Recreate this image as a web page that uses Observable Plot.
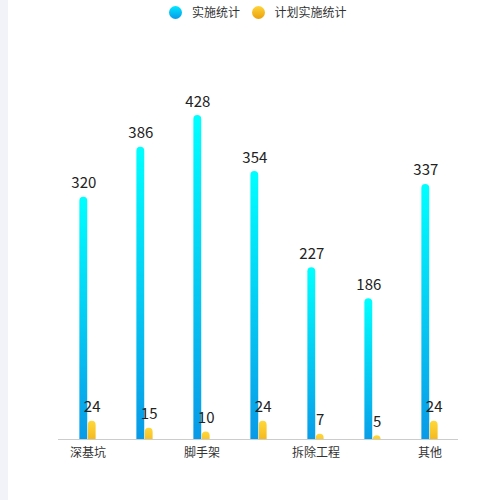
<!DOCTYPE html>
<html>
<head>
<meta charset="utf-8">
<script src="https://cdn.jsdelivr.net/npm/d3@7"></script>
<script src="https://cdn.jsdelivr.net/npm/@observablehq/plot@0.6"></script>
<style>
  html, body { margin: 0; padding: 0; background: #fff; }
  #wrap { position: relative; width: 500px; height: 500px; overflow: hidden; font-family: "Noto Sans CJK SC", "Noto Sans", sans-serif; }
  #strip { position: absolute; left: 0; top: 0; width: 8px; height: 500px; background: #f2f3f8; }
  #legend { position: absolute; top: 4px; left: 0; width: 500px; height: 16px; }
  .li { position: absolute; top: 0; display: flex; align-items: center; font-size: 12px; color: #333; line-height: 16px; white-space: nowrap; }
  .dot { width: 13px; height: 13px; border-radius: 50%; margin-right: 10px; }
  #chart { position: absolute; left: 0; top: 0; }
</style>
</head>
<body>
<div id="wrap">
  <div id="strip"></div>
  <div id="chart"></div>
  <div id="legend"></div>
</div>
<script>
const categories = ["深基坑", "高支模", "脚手架", "起重吊装", "拆除工程", "暗挖工程", "其他"];
const shownLabels = ["深基坑", "脚手架", "拆除工程", "其他"];
const actual = [320, 386, 428, 354, 227, 186, 337];
const planned = [24, 15, 10, 24, 7, 5, 24];
const seriesNames = ["实施统计", "计划实施统计"];

const W = 500, H = 500;
const mL = 58, mR = 42, mT = 60.5, mB = 61;
const bw = (W - mL - mR) / categories.length;

const dataA = categories.map((c, i) => ({cat: c, v: actual[i]}));
const dataP = categories.map((c, i) => ({cat: c, v: planned[i]}));

const chart = Plot.plot({
  width: W, height: H,
  marginLeft: mL, marginRight: mR, marginTop: mT, marginBottom: mB,
  style: {fontFamily: '"Noto Sans CJK SC", "Noto Sans", sans-serif', background: "transparent"},
  x: {type: "band", domain: categories, padding: 0, axis: null, label: null},
  y: {domain: [0, 500], axis: null, label: null},
  marks: [
    Plot.barY(dataA, {x: "cat", y1: -20, y2: "v", fill: "url(#gBlue)", rx: 4, clip: true,
      insetLeft: bw / 2 - 8.2, insetRight: bw / 2 + 0.2}),
    Plot.barY(dataP, {x: "cat", y1: -20, y2: "v", fill: "url(#gYellow)", rx: 4, clip: true,
      insetLeft: bw / 2 + 0.2, insetRight: bw / 2 - 8.2}),
    Plot.ruleY([0], {stroke: "#cccccc", strokeWidth: 1}),
    Plot.text(dataA, {x: "cat", y: "v", text: d => String(d.v), dx: -4.2, dy: -9, lineAnchor: "bottom",
      fontSize: 15, fill: "#222"}),
    Plot.text(dataP, {x: "cat", y: "v", text: d => String(d.v), dx: 4.2, dy: -9, lineAnchor: "bottom",
      fontSize: 15, fill: "#222"}),
    Plot.axisX({domain: categories, tickSize: 0, tickPadding: 9, fontSize: 12, fill: "#333", label: null,
      tickFormat: d => shownLabels.includes(d) ? d : ""})
  ]
});

const svg = d3.select(chart);
const defs = svg.insert("defs", ":first-child");
const gB = defs.append("linearGradient").attr("id", "gBlue").attr("x1", 0).attr("y1", 0).attr("x2", 0).attr("y2", 1);
gB.append("stop").attr("offset", "0%").attr("stop-color", "#00ffff");
gB.append("stop").attr("offset", "100%").attr("stop-color", "#0a94e6");
const gY = defs.append("linearGradient").attr("id", "gYellow").attr("x1", 0).attr("y1", 0).attr("x2", 0).attr("y2", 1);
gY.append("stop").attr("offset", "0%").attr("stop-color", "#ffd83a");
gY.append("stop").attr("offset", "100%").attr("stop-color", "#eba10a");

document.getElementById("chart").appendChild(chart);

const legend = document.getElementById("legend");
const legendItems = [
  {name: seriesNames[0], left: 169, bg: "linear-gradient(180deg, #00e8ff, #0a9ae8)"},
  {name: seriesNames[1], left: 251.5, bg: "linear-gradient(180deg, #ffd43a, #eba10a)"}
];
legendItems.forEach(it => {
  const el = document.createElement("div");
  el.className = "li";
  el.style.left = it.left + "px";
  const dot = document.createElement("span");
  dot.className = "dot";
  dot.style.background = it.bg;
  const tx = document.createElement("span");
  tx.textContent = it.name;
  el.appendChild(dot);
  el.appendChild(tx);
  legend.appendChild(el);
});
</script>
</body>
</html>
